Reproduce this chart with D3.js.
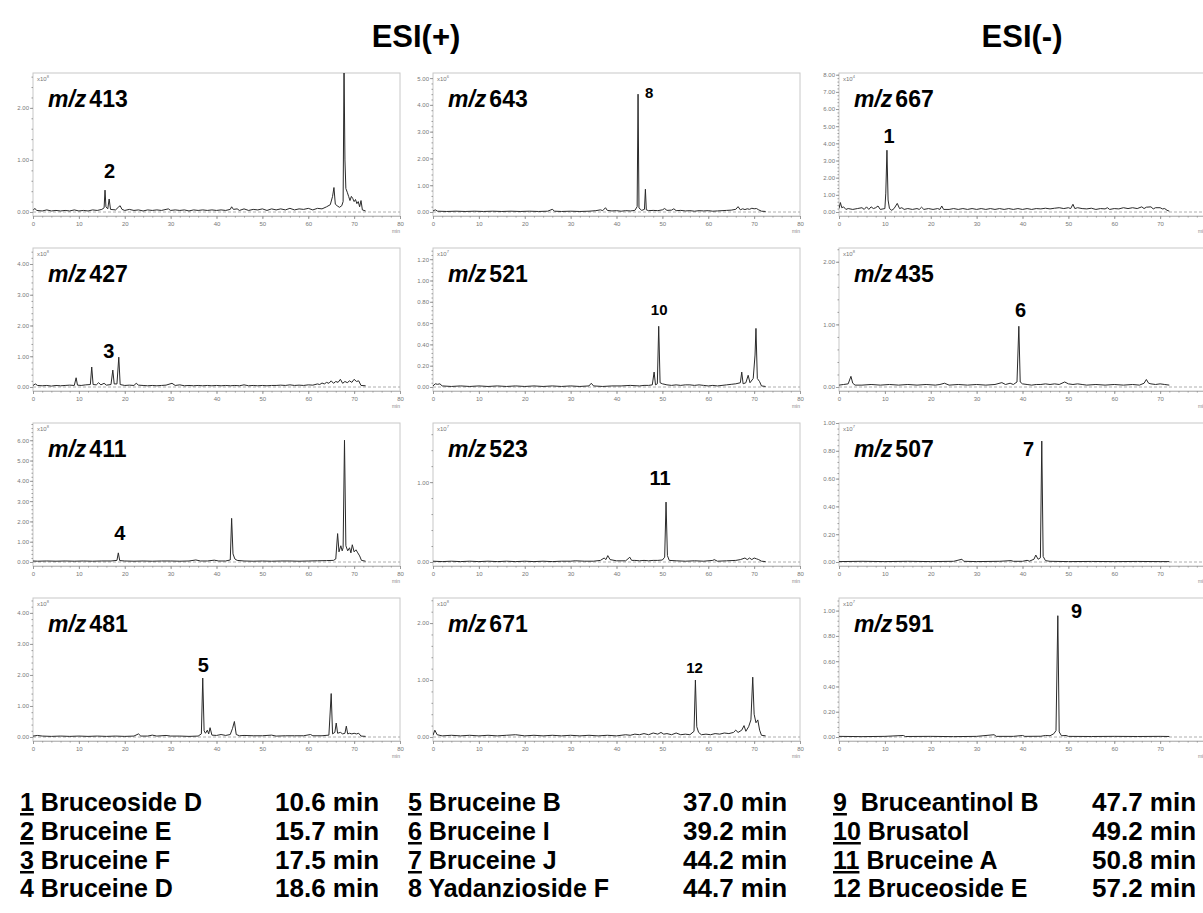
<html>
<head>
<meta charset="utf-8" />
<script src="https://d3js.org/d3.v7.min.js"></script>
<style>
  body { margin: 0; background: #fff; }
  text { font-family: "Liberation Sans", Arial, sans-serif; }
</style>
</head>
<body>
<div id="chart"></div>
<script>
// panels in row order: ESI(+) two columns, ESI(-) third column
const panelMz = ["413", "643", "667", "427", "521", "435", "411", "523", "507", "481", "671", "591"];
const panelExp = ["8", "6", "4", "8", "7", "8", "8", "7", "7", "8", "8", "7"];
const panelYMax = [2.67, 5.19, 8.1, 4.52, 1.305, 2.22, 6.85, 1.74, 1.0, 4.48, 2.44, 1.10];
const panelYStep = [1, 1, 1, 1, 0.2, 1, 1, 1, 0.2, 1, 1, 0.2];
const xTicks = [0, 10, 20, 30, 40, 50, 60, 70, 80];

// retention time (min) / intensity pairs
const trace413 = [[0,0.03],[0.4,0.07],[0.8,0.03],[2,0.02],[3,0.04],[4,0.02],[5,0.03],[6,0.02],[7,0.03],[8,0.02],[9,0.04],[10,0.02],[11,0.03],[12,0.02],[13,0.04],[14,0.03],[15,0.05],[15.5,0.08],[15.7,0.42],[15.9,0.1],[16.3,0.06],[16.6,0.25],[16.9,0.05],[18,0.04],[18.7,0.1],[19,0.12],[19.4,0.05],[20,0.03],[21,0.05],[22,0.03],[23,0.04],[24,0.02],[25,0.04],[26,0.03],[27,0.04],[28,0.03],[29,0.05],[29.5,0.06],[30,0.03],[31,0.04],[32,0.03],[33,0.04],[34,0.02],[35,0.04],[36,0.03],[37,0.04],[38,0.03],[39,0.04],[40,0.03],[41,0.04],[42,0.03],[43,0.05],[43.3,0.1],[43.7,0.05],[44.5,0.06],[45,0.03],[46,0.06],[47,0.03],[48,0.05],[49,0.04],[50,0.06],[51,0.03],[52,0.06],[53,0.04],[54,0.06],[55,0.04],[56,0.07],[57,0.04],[58,0.06],[59,0.05],[60,0.07],[61,0.04],[62,0.07],[63,0.06],[64,0.1],[64.8,0.14],[65.3,0.3],[65.6,0.47],[65.9,0.15],[66.3,0.12],[66.8,0.09],[67.3,0.12],[67.6,0.2],[67.8,2.8],[68.0,1.0],[68.2,0.45],[68.5,0.38],[68.8,0.3],[69.1,0.22],[69.4,0.3],[69.7,0.26],[70,0.2],[70.3,0.24],[70.6,0.16],[70.9,0.2],[71.2,0.1],[71.5,0.22],[71.8,0.04],[72.5,0.02]];
const trace643 = [[0,0.04],[0.5,0.08],[1,0.03],[3,0.02],[5,0.03],[7,0.02],[9,0.03],[11,0.02],[13,0.03],[15,0.02],[17,0.03],[19,0.02],[21,0.03],[23,0.02],[25,0.03],[26,0.1],[26.5,0.03],[28,0.02],[30,0.03],[32,0.02],[34,0.03],[35.5,0.05],[36.5,0.08],[37,0.05],[37.6,0.16],[38,0.06],[39,0.04],[40,0.05],[41,0.03],[42,0.05],[43,0.04],[44,0.06],[44.5,0.2],[44.7,4.4],[44.9,0.15],[45.5,0.06],[46.1,0.1],[46.3,0.85],[46.5,0.08],[47,0.05],[48,0.06],[49,0.05],[50,0.08],[50.5,0.13],[51,0.06],[52,0.07],[52.5,0.12],[53,0.05],[54,0.06],[55,0.04],[56,0.05],[57,0.03],[58,0.05],[59,0.04],[60,0.05],[61,0.03],[62,0.04],[63,0.05],[64,0.06],[65,0.07],[66,0.1],[66.5,0.2],[67,0.08],[67.5,0.12],[68,0.09],[68.5,0.12],[69,0.1],[69.5,0.14],[70,0.12],[70.5,0.13],[71,0.08],[71.6,0.03],[72.5,0.02]];
const trace667 = [[0,0.2],[0.3,0.55],[0.6,0.25],[1,0.3],[1.5,0.15],[2,0.2],[3,0.15],[4,0.2],[5,0.25],[5.5,0.15],[6,0.3],[6.5,0.15],[7,0.3],[7.5,0.2],[8,0.25],[8.5,0.35],[9,0.15],[10,0.2],[10.2,1.1],[10.45,3.6],[10.7,0.7],[11,0.2],[11.5,0.1],[12,0.2],[12.7,0.5],[13.2,0.2],[13.7,0.25],[14.2,0.15],[15,0.2],[16,0.15],[17,0.2],[17.5,0.15],[18,0.28],[18.5,0.15],[19.5,0.2],[20.5,0.15],[21.5,0.2],[22,0.15],[22.4,0.35],[22.8,0.15],[24,0.15],[25,0.2],[26,0.15],[27,0.2],[28,0.15],[29,0.2],[30,0.15],[31,0.2],[32,0.15],[33,0.2],[34,0.15],[35,0.2],[36,0.15],[37,0.2],[38,0.15],[39,0.2],[40,0.15],[41,0.2],[42,0.15],[43,0.2],[44,0.18],[45,0.22],[46,0.18],[47,0.22],[48,0.25],[49,0.2],[50,0.25],[50.5,0.2],[51,0.45],[51.4,0.2],[52,0.25],[53,0.2],[54,0.18],[55,0.22],[56,0.15],[57,0.2],[58,0.18],[58.5,0.25],[59,0.15],[60,0.2],[61,0.18],[62,0.25],[63,0.2],[64,0.25],[65,0.2],[66,0.3],[66.5,0.2],[67,0.28],[68,0.3],[68.5,0.18],[69,0.25],[70,0.25],[70.5,0.18],[71,0.2],[71.5,0.1],[72,0.05]];
const trace427 = [[0,0.05],[0.5,0.1],[1,0.05],[2,0.04],[3,0.05],[4,0.03],[5,0.05],[6,0.04],[7,0.05],[8,0.06],[9,0.05],[9.4,0.3],[9.7,0.06],[10.5,0.05],[11.5,0.07],[12.5,0.08],[12.8,0.65],[13.1,0.08],[13.8,0.07],[14.3,0.14],[14.8,0.07],[15.5,0.12],[16,0.06],[17,0.08],[17.4,0.55],[17.7,0.1],[18.3,0.1],[18.7,0.97],[19,0.08],[20,0.05],[21,0.06],[22,0.05],[22.5,0.12],[23,0.06],[24,0.05],[25,0.04],[26,0.05],[27,0.04],[28,0.05],[29,0.06],[30.3,0.12],[31,0.05],[32,0.07],[33,0.04],[34,0.05],[35,0.04],[36,0.05],[37,0.04],[38,0.05],[39,0.04],[40,0.05],[41,0.04],[42,0.05],[43,0.04],[44,0.05],[45,0.04],[46,0.07],[47,0.04],[48,0.05],[49,0.04],[50,0.05],[51,0.04],[52,0.05],[53,0.05],[54,0.06],[55,0.05],[56,0.07],[57,0.05],[58,0.06],[59,0.05],[60,0.07],[61,0.06],[62,0.1],[62.5,0.08],[63,0.13],[63.5,0.1],[64,0.15],[64.5,0.12],[65,0.2],[65.5,0.12],[66,0.18],[66.5,0.15],[67,0.25],[67.5,0.12],[68,0.18],[68.5,0.14],[69,0.2],[69.5,0.15],[70,0.25],[70.5,0.18],[71,0.2],[71.5,0.05],[72.5,0.04]];
const trace521 = [[0,0.01],[0.5,0.03],[1,0.025],[1.5,0.03],[2,0.01],[4,0.005],[6,0.01],[8,0.005],[10,0.01],[12,0.005],[14,0.01],[16,0.005],[18,0.01],[20,0.005],[22,0.01],[24,0.005],[26,0.01],[28,0.005],[30,0.01],[32,0.005],[34,0.01],[34.5,0.035],[35,0.01],[37,0.005],[39,0.01],[41,0.01],[43,0.015],[45,0.01],[46,0.015],[47,0.015],[47.8,0.02],[48.2,0.14],[48.5,0.02],[48.9,0.03],[49.2,0.57],[49.5,0.04],[50,0.03],[51,0.02],[52,0.015],[53,0.02],[54,0.015],[55,0.02],[56,0.02],[57,0.015],[58,0.02],[59,0.015],[60,0.01],[61,0.015],[62,0.01],[63,0.015],[64,0.02],[65,0.025],[66,0.03],[67,0.04],[67.3,0.14],[67.6,0.03],[68.2,0.04],[68.7,0.11],[69.1,0.04],[69.8,0.08],[70.2,0.3],[70.4,0.55],[70.7,0.08],[71.2,0.05],[71.6,0.01],[72.5,0.005]];
const trace435 = [[0,0.03],[1,0.04],[2,0.05],[2.6,0.17],[3,0.06],[3.5,0.03],[5,0.03],[7,0.04],[9,0.03],[11,0.04],[13,0.03],[15,0.04],[17,0.03],[19,0.04],[21,0.03],[22,0.04],[23,0.06],[24,0.03],[26,0.04],[28,0.03],[30,0.04],[32,0.03],[34,0.04],[35.5,0.07],[36.3,0.04],[37.3,0.06],[38,0.04],[38.8,0.08],[39.2,0.97],[39.5,0.08],[40,0.05],[41,0.04],[42,0.03],[43,0.04],[44,0.04],[45,0.05],[46,0.04],[47,0.05],[48,0.04],[49.2,0.08],[50,0.05],[51,0.04],[52,0.05],[53,0.04],[54,0.03],[56,0.04],[58,0.03],[60,0.04],[62,0.03],[64,0.04],[65.5,0.03],[66.5,0.06],[67,0.12],[67.5,0.06],[68,0.05],[69,0.04],[70,0.05],[71,0.04],[72,0.03]];
const trace411 = [[0,0.05],[1,0.04],[3,0.05],[5,0.04],[7,0.05],[9,0.04],[11,0.05],[13,0.04],[15,0.05],[17,0.05],[18.3,0.08],[18.6,0.45],[18.9,0.07],[20,0.05],[22,0.04],[24,0.05],[26,0.04],[28,0.05],[30,0.05],[32,0.04],[34,0.05],[35.5,0.1],[36.5,0.05],[38,0.05],[39.5,0.09],[40.5,0.05],[42,0.05],[43,0.1],[43.3,2.15],[43.6,0.4],[44,0.15],[44.5,0.08],[46,0.05],[48,0.04],[50,0.05],[52,0.04],[54,0.05],[56,0.05],[58,0.04],[60,0.05],[62,0.06],[64,0.07],[65.5,0.08],[66,0.15],[66.4,1.4],[66.7,0.5],[67.1,0.8],[67.4,0.55],[67.6,0.7],[67.9,6.0],[68.2,0.8],[68.6,0.55],[69,0.7],[69.3,0.45],[69.6,0.85],[70,0.5],[70.4,0.6],[70.8,0.45],[71.2,0.3],[71.6,0.08],[72.5,0.04]];
const trace523 = [[0,0.01],[2,0.005],[4,0.01],[6,0.005],[8,0.01],[10,0.005],[12,0.01],[14,0.005],[16,0.01],[18,0.005],[20,0.01],[22,0.005],[24,0.01],[26,0.005],[28,0.01],[30,0.01],[31,0.015],[33,0.01],[35,0.01],[36.5,0.02],[37.3,0.05],[37.7,0.03],[38.1,0.08],[38.6,0.03],[40,0.015],[42,0.015],[42.9,0.06],[43.3,0.02],[44,0.02],[45,0.015],[46,0.02],[47,0.015],[48,0.02],[49,0.02],[50,0.025],[50.5,0.06],[50.8,0.75],[51.1,0.08],[51.5,0.02],[53,0.015],[55,0.01],[57,0.015],[59,0.01],[61,0.02],[61.3,0.03],[62,0.01],[64,0.015],[66,0.02],[67,0.03],[68,0.05],[68.5,0.03],[69,0.05],[69.5,0.03],[70,0.05],[70.5,0.04],[71,0.03],[71.6,0.01],[72.5,0.005]];
const trace507 = [[0,0.003],[5,0.005],[10,0.003],[15,0.005],[20,0.003],[25,0.005],[26.8,0.02],[27.2,0.005],[30,0.003],[35,0.005],[37.5,0.01],[38,0.005],[40,0.005],[41,0.012],[41.5,0.006],[42.5,0.02],[42.9,0.05],[43.4,0.02],[43.9,0.03],[44.2,0.87],[44.5,0.04],[45,0.01],[46,0.005],[50,0.003],[55,0.004],[60,0.003],[65,0.004],[70,0.003],[72,0.003]];
const trace481 = [[0,0.03],[1,0.05],[2,0.03],[4,0.02],[6,0.03],[8,0.02],[10,0.03],[12,0.02],[14,0.03],[16,0.02],[18,0.03],[20,0.02],[22,0.03],[23,0.1],[23.5,0.03],[25,0.03],[26,0.06],[27,0.03],[29,0.05],[30,0.03],[32,0.03],[34,0.02],[36,0.03],[36.7,0.1],[37,1.9],[37.3,0.2],[37.6,0.12],[38,0.22],[38.3,0.1],[38.6,0.3],[39,0.06],[40,0.05],[41,0.08],[42,0.05],[43,0.08],[43.5,0.28],[43.9,0.5],[44.3,0.08],[45,0.04],[46,0.05],[48,0.04],[50,0.04],[52,0.06],[53,0.03],[55,0.04],[57,0.04],[59,0.04],[60.5,0.08],[61,0.04],[63,0.04],[64.5,0.06],[65,1.4],[65.3,0.1],[65.8,0.15],[66.1,0.45],[66.4,0.12],[67,0.15],[67.5,0.1],[68,0.12],[68.3,0.35],[68.6,0.1],[69,0.12],[69.5,0.1],[70,0.12],[70.5,0.1],[71,0.12],[71.5,0.03],[72.5,0.02]];
const trace671 = [[0,0.03],[0.4,0.12],[0.9,0.04],[2,0.02],[4,0.03],[6,0.02],[8,0.03],[10,0.02],[12,0.03],[14,0.02],[16,0.03],[18,0.04],[20,0.02],[22,0.03],[24,0.02],[26,0.03],[28,0.02],[30,0.03],[32,0.02],[34,0.03],[36,0.02],[38,0.03],[40,0.02],[42,0.04],[43,0.03],[44,0.05],[45,0.04],[46,0.06],[47,0.04],[48,0.07],[49,0.05],[49.7,0.08],[50.3,0.05],[51,0.06],[52,0.04],[53,0.07],[54,0.04],[55,0.05],[56,0.04],[56.9,0.1],[57.2,1.0],[57.5,0.18],[57.9,0.08],[58.5,0.04],[59.5,0.05],[60.5,0.04],[61.5,0.06],[62.5,0.05],[63.5,0.07],[64.5,0.06],[65.5,0.08],[66,0.12],[66.5,0.08],[67.3,0.12],[67.8,0.2],[68.2,0.1],[68.8,0.18],[69.3,0.3],[69.7,1.05],[70,0.4],[70.4,0.25],[70.8,0.3],[71.2,0.12],[71.6,0.03],[72.5,0.02]];
const trace591 = [[0,0.005],[5,0.003],[10,0.005],[14,0.012],[14.5,0.004],[20,0.005],[25,0.003],[30,0.005],[33.8,0.018],[34.3,0.005],[38,0.005],[40,0.012],[40.5,0.005],[44,0.006],[45,0.012],[46,0.01],[46.8,0.025],[47.3,0.05],[47.7,0.96],[48,0.04],[48.5,0.01],[49.5,0.012],[50,0.005],[55,0.004],[60,0.005],[65,0.004],[70,0.005],[72,0.004]];
const traces = [trace413, trace643, trace667, trace427, trace521, trace435, trace411, trace523, trace507, trace481, trace671, trace591];

// peak number labels: [panel, number, time, intensity] in data units
const peakLabels = [[0,"2",16.7,0.65],[1,"8",47.1,4.25],[2,"1",10.9,4.0],[3,"3",16.5,0.94],[4,"10",49.3,0.68],[5,"6",39.6,1.12],
                    [6,"4",18.9,1.08],[7,"11",49.5,0.96],[8,"7",41.3,0.76],[9,"5",37.1,2.1],[10,"12",57.0,1.12],[11,"9",51.8,0.94]];

// compound table
const legendNum = ["1","2","3","4","5","6","7","8","9","10","11","12"];
const legendName = ["Bruceoside D","Bruceine E","Bruceine F","Bruceine D","Bruceine B","Bruceine I","Bruceine J","Yadanzioside F","Bruceantinol B","Brusatol","Bruceine A","Bruceoside E"];
const legendTime = ["10.6 min","15.7 min","17.5 min","18.6 min","37.0 min","39.2 min","44.2 min","44.7 min","47.7 min","49.2 min","50.8 min","57.2 min"];
const legendUnderline = [true,true,true,false,true,true,true,false,true,true,true,false];

const W = 1203, H = 913;
const colLeft = [33, 433, 839], plotW = 367;
const rowTop = [73, 248, 423, 598], plotH = 143;
const smallLabels = new Set(["8","10","12"]);

const svg = d3.select("#chart").append("svg").attr("width", W).attr("height", H);

svg.append("text").attr("x", 416).attr("y", 47).attr("text-anchor","middle")
   .attr("font-size", 31).attr("font-weight","bold").text("ESI(+)");
svg.append("text").attr("x", 1022).attr("y", 47).attr("text-anchor","middle")
   .attr("font-size", 31).attr("font-weight","bold").text("ESI(-)");

panelMz.forEach(function(mz, i) {
  const r = Math.floor(i / 3), c = i % 3;
  const left = colLeft[c], top = rowTop[r], bottom = top + plotH;
  const x = d3.scaleLinear().domain([0, 80]).range([left, left + plotW]);
  const y = d3.scaleLinear().domain([0, panelYMax[i]]).range([bottom - 4, top]);
  const g = svg.append("g");

  g.append("clipPath").attr("id", "clip" + i).append("rect")
    .attr("x", left).attr("y", top).attr("width", plotW).attr("height", plotH);

  g.append("rect").attr("x", left).attr("y", top).attr("width", plotW).attr("height", plotH)
    .attr("fill", "none").attr("stroke", "#c8c8c8").attr("stroke-width", 1);

  // zero line, dashed past the end of the run
  g.append("line").attr("x1", x(0)).attr("x2", x(80)).attr("y1", y(0)).attr("y2", y(0))
    .attr("stroke", "#999").attr("stroke-width", 0.8).attr("stroke-dasharray", "3,2");

  // axes
  const yTicks = d3.range(0, panelYMax[i] + 1e-6, panelYStep[i]);
  const yMinor = d3.range(0, panelYMax[i], panelYStep[i] / 5);
  const ya = g.append("g").attr("transform", "translate(" + left + ",0)")
    .call(d3.axisLeft(y).tickValues(yTicks).tickFormat(d3.format(".2f")).tickSize(3).tickPadding(1));
  g.append("g").attr("transform", "translate(" + left + ",0)")
    .call(d3.axisLeft(y).tickValues(yMinor).tickFormat("").tickSize(1.5))
    .select(".domain").remove();
  g.append("g").attr("transform", "translate(0," + bottom + ")")
    .call(d3.axisBottom(x).tickValues(xTicks).tickSize(3).tickPadding(3));
  g.append("g").attr("transform", "translate(0," + bottom + ")")
    .call(d3.axisBottom(x).tickValues(d3.range(0, 81, 2)).tickFormat("").tickSize(1.5))
    .select(".domain").remove();
  g.selectAll(".domain").attr("stroke", "#bbb");
  g.selectAll(".tick line").attr("stroke", "#999");
  g.selectAll(".tick text").attr("fill", "#777").attr("font-size", 6);
  ya.select(".domain").remove();

  g.append("text").attr("x", left + plotW).attr("y", bottom + 17).attr("text-anchor", "end")
    .attr("font-size", 5).attr("fill", "#888").text("min");

  // exponent label
  const ex = g.append("text").attr("x", left + 4).attr("y", top + 8).attr("font-size", 6).attr("fill", "#777");
  ex.append("tspan").text("x10");
  ex.append("tspan").attr("dy", -3).attr("font-size", 4).text(panelExp[i]);

  // trace
  const line = d3.line().x(d => x(d[0])).y(d => y(d[1]));
  g.append("path").datum(traces[i]).attr("clip-path", "url(#clip" + i + ")")
    .attr("d", line).attr("fill", "none").attr("stroke", "#2a2a2a").attr("stroke-width", 1)
    .attr("stroke-linejoin", "round");

  // m/z label
  const t = g.append("text").attr("x", left + 15).attr("y", top + 34)
    .attr("font-size", 23).attr("font-weight", "bold");
  t.append("tspan").attr("font-style", "italic").text("m/z");
  t.append("tspan").attr("dx", 3).text(mz);

  // peak numbers
  peakLabels.filter(p => p[0] === i).forEach(function(p) {
    g.append("text").attr("x", x(p[2])).attr("y", y(p[3])).attr("text-anchor", "middle")
      .attr("font-size", smallLabels.has(p[1]) ? 15 : 20).attr("font-weight", "bold").text(p[1]);
  });
});

// compound table
const legX = [20, 408, 833], legTimeX = [275, 683, 1092], legY = [811, 840, 869, 897];
legendNum.forEach(function(n, k) {
  const c = Math.floor(k / 4), r = k % 4;
  const t = svg.append("text").attr("x", legX[c]).attr("y", legY[r])
    .attr("font-size", 25).attr("font-weight", "bold").style("white-space", "pre");
  t.append("tspan").attr("text-decoration", legendUnderline[k] ? "underline" : null).text(n);
  t.append("tspan").text((n === "9" ? "  " : " ") + legendName[k]);
  svg.append("text").attr("x", legTimeX[c]).attr("y", legY[r])
    .attr("font-size", 26).attr("font-weight", "bold").text(legendTime[k]);
});
</script>
</body>
</html>
